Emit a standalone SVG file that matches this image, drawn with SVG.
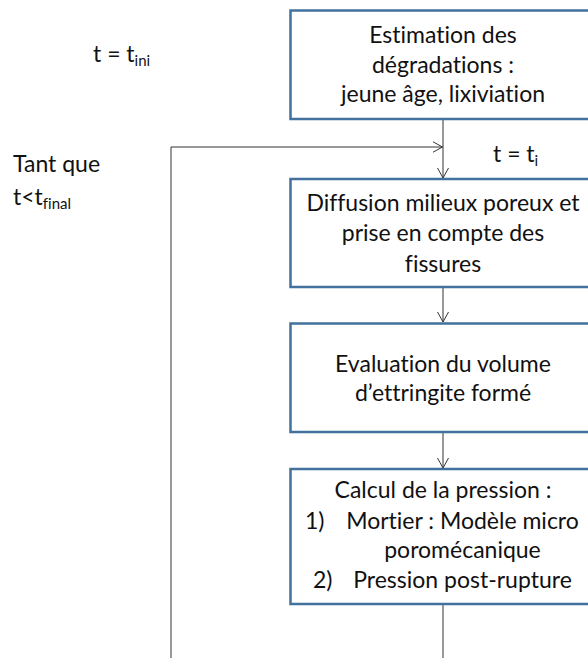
<svg xmlns="http://www.w3.org/2000/svg" width="588" height="658" viewBox="0 0 588 658">
<style>
.box{fill:#ffffff;stroke:#41719C;stroke-width:2.5}
.t{font-family:Lato,"Liberation Sans",sans-serif;font-size:23px;fill:#111111;font-variant-ligatures:none;font-feature-settings:"liga" 0,"clig" 0}
.c{text-anchor:middle}
.sub{font-size:15px}
.ln{fill:none;stroke:#333333;stroke-width:1}
</style>
<defs>
<marker id="ah" viewBox="0 0 10 12" refX="10" refY="6" markerWidth="10" markerHeight="12" markerUnits="userSpaceOnUse" orient="auto">
<path d="M0,0.5 L10,6 L0,11.5" fill="none" stroke="#333333" stroke-width="1"/>
</marker>
</defs>
<rect width="588" height="658" fill="#ffffff"/>
<g id="connectors">
<line class="ln" x1="443" y1="119" x2="443" y2="178" marker-end="url(#ah)"/>
<polyline class="ln" points="171,658 171,147 442.5,147" marker-end="url(#ah)"/>
<line class="ln" x1="443" y1="287" x2="443" y2="322" marker-end="url(#ah)"/>
<line class="ln" x1="443" y1="432" x2="443" y2="468" marker-end="url(#ah)"/>
<line class="ln" x1="443" y1="604" x2="443" y2="658"/>
</g>
<g id="label-tini">
<text class="t" x="93" y="62">t = t<tspan class="sub" dy="4">ini</tspan></text>
</g>
<g id="label-tantque">
<text class="t" x="13" y="172">Tant que</text>
<text class="t" x="13" y="205">t&lt;t<tspan class="sub" dy="4">final</tspan></text>
</g>
<g id="label-ti">
<text class="t" x="493" y="162">t = t<tspan class="sub" dy="4">i</tspan></text>
</g>
<g id="node1">
<rect class="box" x="290.5" y="10.5" width="310" height="108.5"/>
<text class="t c" x="443" y="43">Estimation des</text>
<text class="t c" x="443" y="72.5">dégradations :</text>
<text class="t c" x="443" y="101.5">jeune âge, lixiviation</text>
</g>
<g id="node2">
<rect class="box" x="290.5" y="179" width="310" height="108"/>
<text class="t c" x="443" y="210.5">Diffusion milieux poreux et</text>
<text class="t c" x="443" y="241">prise en compte des</text>
<text class="t c" x="443" y="271.5">fissures</text>
</g>
<g id="node3">
<rect class="box" x="290.5" y="323.5" width="310" height="108.5"/>
<text class="t c" x="443" y="371.5">Evaluation du volume</text>
<text class="t c" x="443" y="400.5">d’ettringite formé</text>
</g>
<g id="node4">
<rect class="box" x="290.5" y="469" width="310" height="135"/>
<text class="t c" x="443" y="498">Calcul de la pression :</text>
<text class="t" x="305" y="528.5">1)</text>
<text class="t c" x="462.5" y="528.5">Mortier : Modèle micro</text>
<text class="t c" x="462.5" y="558">poromécanique</text>
<text class="t" x="313" y="588">2)</text>
<text class="t c" x="462.5" y="588">Pression post-rupture</text>
</g>
</svg>
